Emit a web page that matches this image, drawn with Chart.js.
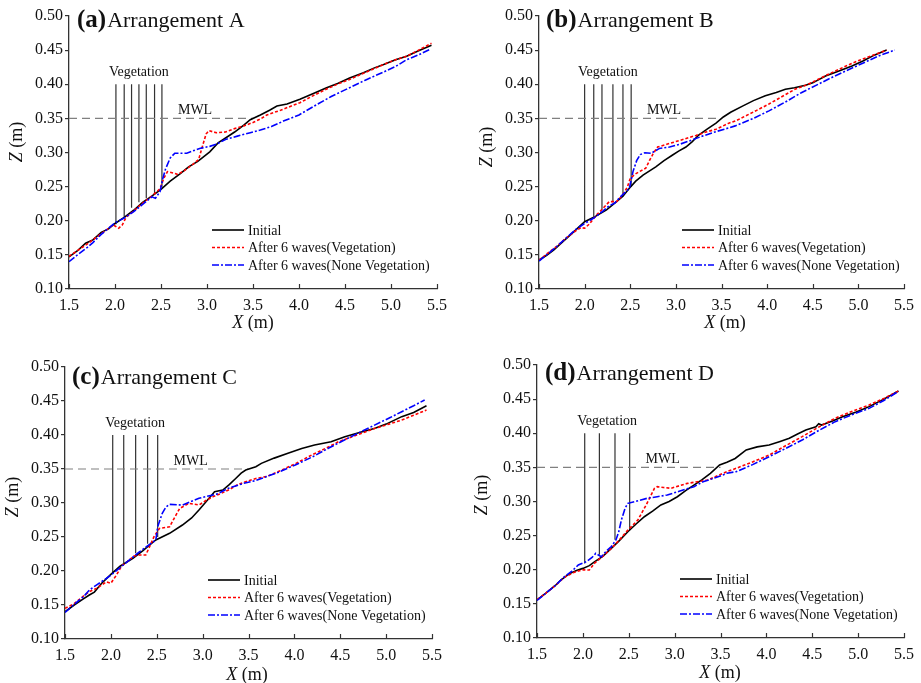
<!DOCTYPE html>
<html><head><meta charset="utf-8">
<script src="https://cdn.jsdelivr.net/npm/chart.js@4.4.0/dist/chart.umd.min.js"></script>
<style>
html,body{margin:0;padding:0;background:#fff;}
#wrap{position:relative;width:921px;height:683px;overflow:hidden;background:#fff;}
canvas{position:absolute;}
</style></head><body><div id="wrap">
<canvas id="ca" width="460" height="340" style="left:0px;top:0px"></canvas>
<canvas id="cb" width="461" height="340" style="left:460px;top:0px"></canvas>
<canvas id="cc" width="460" height="343" style="left:0px;top:340px"></canvas>
<canvas id="cd" width="461" height="343" style="left:460px;top:340px"></canvas>
</div>
<script>
// ---------- data ----------
const seriesLabels = ['Initial', 'After 6 waves(Vegetation)', 'After 6 waves(None Vegetation)'];
const xTickVals = [1.5, 2.0, 2.5, 3.0, 3.5, 4.0, 4.5, 5.0, 5.5];
const yTickVals = [0.10, 0.15, 0.20, 0.25, 0.30, 0.35, 0.40, 0.45, 0.50];
const mwlLevel = 0.35;
const mwlRange = [1.5, 3.5];
const stemTop = 0.40;

// Arrangement A
const A_initial = [[1.5,0.147],[1.6,0.157],[1.68,0.167],[1.76,0.172],[1.85,0.183],[1.93,0.188],[2.0,0.196],[2.1,0.205],[2.2,0.215],[2.3,0.227],[2.4,0.236],[2.5,0.246],[2.6,0.258],[2.71,0.269],[2.8,0.279],[2.9,0.287],[3.03,0.301],[3.12,0.314],[3.21,0.322],[3.3,0.330],[3.4,0.340],[3.47,0.348],[3.58,0.355],[3.68,0.362],[3.76,0.368],[3.87,0.371],[4.01,0.378],[4.15,0.386],[4.3,0.395],[4.42,0.401],[4.55,0.409],[4.7,0.417],[4.82,0.424],[4.92,0.429],[5.05,0.436],[5.17,0.441],[5.3,0.449],[5.44,0.457]];
const A_vegetation = [[1.5,0.148],[1.6,0.157],[1.7,0.166],[1.8,0.176],[1.9,0.186],[1.98,0.194],[2.04,0.189],[2.08,0.194],[2.12,0.205],[2.2,0.214],[2.3,0.226],[2.4,0.236],[2.49,0.247],[2.53,0.262],[2.57,0.272],[2.63,0.270],[2.68,0.268],[2.75,0.273],[2.85,0.283],[2.91,0.290],[2.95,0.309],[2.99,0.327],[3.02,0.332],[3.1,0.329],[3.2,0.330],[3.3,0.335],[3.4,0.339],[3.5,0.344],[3.58,0.349],[3.65,0.355],[3.8,0.362],[4.01,0.373],[4.15,0.383],[4.3,0.393],[4.45,0.402],[4.55,0.407],[4.7,0.416],[4.82,0.423],[4.92,0.429],[5.05,0.436],[5.17,0.441],[5.3,0.450],[5.44,0.460]];
const A_noneVeg = [[1.5,0.140],[1.6,0.151],[1.7,0.161],[1.76,0.168],[1.85,0.180],[1.93,0.189],[2.0,0.197],[2.1,0.204],[2.2,0.213],[2.3,0.224],[2.4,0.235],[2.44,0.233],[2.49,0.243],[2.52,0.262],[2.55,0.276],[2.6,0.292],[2.65,0.299],[2.78,0.299],[2.92,0.306],[3.03,0.309],[3.1,0.312],[3.2,0.319],[3.33,0.324],[3.47,0.329],[3.58,0.333],[3.7,0.338],[3.83,0.346],[4.0,0.355],[4.19,0.370],[4.35,0.382],[4.55,0.395],[4.72,0.406],[4.92,0.418],[5.05,0.426],[5.17,0.436],[5.3,0.443],[5.42,0.451]];
const A_stemX = [2.01, 2.10, 2.18, 2.26, 2.34, 2.43, 2.51];
const A_stemBase = [0.195, 0.204, 0.219, 0.227, 0.233, 0.238, 0.249];

// Arrangement B
const B_initial = [[1.5,0.1425],[1.58,0.149],[1.66,0.157],[1.75,0.168],[1.85,0.180],[1.93,0.190],[2.0,0.1986],[2.1,0.205],[2.24,0.216],[2.35,0.228],[2.42,0.236],[2.49,0.2475],[2.56,0.258],[2.64,0.267],[2.78,0.279],[2.87,0.288],[2.96,0.296],[3.03,0.302],[3.11,0.308],[3.18,0.316],[3.25,0.3256],[3.35,0.335],[3.44,0.343],[3.52,0.352],[3.6,0.359],[3.73,0.368],[3.85,0.376],[3.98,0.383],[4.1,0.388],[4.2,0.3926],[4.3,0.395],[4.42,0.3985],[4.5,0.402],[4.64,0.412],[4.78,0.419],[4.93,0.4267],[5.05,0.434],[5.18,0.443],[5.31,0.4502]];
const B_vegetation = [[1.5,0.142],[1.6,0.153],[1.7,0.163],[1.8,0.175],[1.9,0.185],[1.96,0.190],[2.0,0.189],[2.05,0.195],[2.13,0.2084],[2.2,0.218],[2.27,0.228],[2.35,0.228],[2.42,0.238],[2.47,0.250],[2.5,0.262],[2.55,0.268],[2.6,0.272],[2.67,0.277],[2.71,0.288],[2.75,0.298],[2.8,0.308],[2.9,0.312],[3.0,0.316],[3.1,0.320],[3.22,0.325],[3.33,0.330],[3.44,0.334],[3.58,0.343],[3.65,0.346],[3.8,0.356],[4.02,0.371],[4.15,0.381],[4.31,0.393],[4.45,0.400],[4.6,0.410],[4.74,0.419],[4.87,0.427],[4.99,0.434],[5.15,0.442],[5.31,0.450]];
const B_noneVeg = [[1.5,0.141],[1.6,0.152],[1.7,0.163],[1.8,0.175],[1.9,0.187],[2.0,0.196],[2.1,0.204],[2.2,0.214],[2.27,0.222],[2.33,0.226],[2.4,0.236],[2.49,0.2475],[2.53,0.272],[2.57,0.288],[2.61,0.297],[2.66,0.2997],[2.73,0.2988],[2.82,0.306],[2.93,0.308],[3.04,0.312],[3.15,0.317],[3.29,0.324],[3.45,0.331],[3.58,0.336],[3.65,0.339],[3.85,0.350],[4.02,0.361],[4.2,0.374],[4.38,0.388],[4.56,0.400],[4.74,0.412],[4.92,0.423],[5.1,0.434],[5.25,0.443],[5.4,0.450]];
const B_stemX = [2.0, 2.10, 2.19, 2.31, 2.42, 2.51];
const B_stemBase = [0.199, 0.206, 0.216, 0.227, 0.236, 0.250];

// Arrangement C
const C_initial = [[1.5,0.140],[1.6,0.150],[1.7,0.159],[1.765,0.1647],[1.82,0.169],[1.9,0.182],[2.0,0.195],[2.1,0.207],[2.24,0.2187],[2.35,0.230],[2.42,0.238],[2.49,0.2456],[2.64,0.2554],[2.78,0.2676],[2.88,0.278],[2.96,0.2897],[3.07,0.307],[3.13,0.3166],[3.22,0.319],[3.29,0.327],[3.36,0.336],[3.42,0.344],[3.47,0.3485],[3.58,0.3534],[3.64,0.3583],[3.78,0.366],[3.93,0.373],[4.08,0.380],[4.22,0.3853],[4.4,0.390],[4.55,0.3975],[4.72,0.404],[4.88,0.4098],[5.0,0.416],[5.17,0.427],[5.3,0.433],[5.44,0.443]];
const C_vegetation = [[1.5,0.145],[1.6,0.152],[1.7,0.163],[1.765,0.1696],[1.85,0.175],[1.95,0.184],[2.0,0.182],[2.06,0.194],[2.12,0.208],[2.18,0.2137],[2.25,0.222],[2.31,0.2235],[2.38,0.2235],[2.43,0.238],[2.47,0.2505],[2.53,0.2627],[2.64,0.265],[2.69,0.2775],[2.75,0.292],[2.85,0.2996],[2.96,0.297],[3.04,0.304],[3.11,0.309],[3.2,0.314],[3.29,0.3196],[3.38,0.327],[3.46,0.331],[3.58,0.336],[3.7,0.339],[3.82,0.346],[4.0,0.357],[4.19,0.3706],[4.35,0.381],[4.48,0.390],[4.68,0.400],[4.88,0.4098],[5.03,0.416],[5.17,0.422],[5.3,0.429],[5.44,0.4368]];
const C_noneVeg = [[1.5,0.139],[1.6,0.151],[1.7,0.162],[1.765,0.172],[1.85,0.180],[1.95,0.189],[2.0,0.194],[2.1,0.205],[2.2,0.216],[2.3,0.227],[2.4,0.237],[2.49,0.2456],[2.51,0.265],[2.56,0.2848],[2.6,0.294],[2.64,0.298],[2.78,0.297],[2.87,0.302],[2.96,0.307],[3.05,0.310],[3.15,0.3128],[3.28,0.3216],[3.45,0.329],[3.58,0.333],[3.64,0.336],[3.82,0.345],[4.01,0.356],[4.2,0.368],[4.37,0.3804],[4.55,0.393],[4.73,0.405],[4.95,0.4196],[5.05,0.426],[5.17,0.4343],[5.3,0.443],[5.42,0.4515]];
const C_stemX = [2.02, 2.14, 2.27, 2.40, 2.51];
const C_stemBase = [0.198, 0.211, 0.226, 0.240, 0.250];

// Arrangement D
const D_initial = [[1.5,0.1557],[1.6,0.166],[1.7,0.177],[1.76,0.185],[1.85,0.194],[1.93,0.199],[2.0,0.202],[2.07,0.206],[2.13,0.2118],[2.22,0.220],[2.31,0.2314],[2.4,0.243],[2.49,0.2557],[2.58,0.267],[2.67,0.2777],[2.76,0.286],[2.85,0.295],[2.94,0.300],[3.03,0.307],[3.12,0.316],[3.21,0.324],[3.3,0.332],[3.39,0.3413],[3.49,0.3535],[3.57,0.3574],[3.66,0.363],[3.78,0.3755],[3.9,0.380],[4.03,0.3828],[4.15,0.388],[4.25,0.3926],[4.34,0.399],[4.43,0.4048],[4.54,0.4096],[4.57,0.414],[4.6,0.412],[4.72,0.418],[4.83,0.4243],[4.98,0.431],[5.12,0.439],[5.28,0.450],[5.44,0.462]];
const D_vegetation = [[1.5,0.156],[1.6,0.166],[1.7,0.177],[1.8,0.189],[1.9,0.196],[2.0,0.200],[2.07,0.1996],[2.13,0.210],[2.22,0.220],[2.31,0.2314],[2.4,0.244],[2.49,0.258],[2.6,0.273],[2.69,0.295],[2.78,0.3193],[2.81,0.3217],[2.88,0.3205],[2.96,0.3193],[3.05,0.323],[3.14,0.3266],[3.25,0.329],[3.36,0.3315],[3.47,0.338],[3.57,0.3437],[3.67,0.3486],[3.85,0.358],[4.03,0.368],[4.2,0.381],[4.39,0.395],[4.57,0.409],[4.75,0.422],[4.93,0.432],[5.12,0.4414],[5.28,0.451],[5.44,0.462]];
const D_noneVeg = [[1.5,0.155],[1.6,0.166],[1.7,0.177],[1.8,0.190],[1.88,0.198],[1.95,0.207],[2.04,0.2118],[2.1,0.218],[2.14,0.224],[2.2,0.219],[2.26,0.228],[2.31,0.234],[2.36,0.2436],[2.39,0.255],[2.42,0.273],[2.46,0.290],[2.49,0.2973],[2.56,0.2997],[2.7,0.3047],[2.81,0.307],[2.92,0.3095],[3.05,0.315],[3.21,0.3217],[3.31,0.329],[3.45,0.335],[3.57,0.3413],[3.67,0.3437],[3.85,0.354],[4.03,0.3657],[4.2,0.377],[4.39,0.390],[4.57,0.404],[4.75,0.417],[4.93,0.427],[5.12,0.4365],[5.28,0.448],[5.44,0.4614]];
const D_stemX = [2.02, 2.18, 2.35, 2.51];
const D_stemBase = [0.209, 0.222, 0.244, 0.258];

// ---------- styles / layout ----------
const FONT = "'Liberation Serif','Times New Roman',serif";
const lineStyles = [
  {color:'#000000', dash:[], width:1.6},
  {color:'#ff0000', dash:[3,2], width:1.6},
  {color:'#0000ff', dash:[7,2,2,2], width:1.6}
];
const panels = [
  {id:'ca', tag:'(a)', name:'Arrangement A', series:[A_initial,A_vegetation,A_noneVeg], stemX:A_stemX, stemBase:A_stemBase,
   W:460,H:340,L:69,R:437,T:16,B:289, titleOff:[8,11], zLab:[17,142], xLab:[253,323]},
  {id:'cb', tag:'(b)', name:'Arrangement B', series:[B_initial,B_vegetation,B_noneVeg], stemX:B_stemX, stemBase:B_stemBase,
   W:461,H:340,L:79,R:446,T:16,B:289, titleOff:[7,11], zLab:[27,147], xLab:[265,323]},
  {id:'cc', tag:'(c)', name:'Arrangement C', series:[C_initial,C_vegetation,C_noneVeg], stemX:C_stemX, stemBase:C_stemBase,
   W:460,H:343,L:65,R:432,T:27,B:299, titleOff:[7,17], zLab:[13,157], xLab:[247,335]},
  {id:'cd', tag:'(d)', name:'Arrangement D', series:[D_initial,D_vegetation,D_noneVeg], stemX:D_stemX, stemBase:D_stemBase,
   W:461,H:343,L:77,R:446,T:25,B:298, titleOff:[8,15], zLab:[22,155], xLab:[260,333]}
];

function drawMixed(ctx, parts, cx, cy){
  let w = 0;
  parts.forEach(p => { ctx.font = p[1]; w += ctx.measureText(p[0]).width; });
  let x = cx - w/2;
  parts.forEach(p => { ctx.font = p[1]; ctx.fillText(p[0], x, cy); x += ctx.measureText(p[0]).width; });
}

const overlay = {
  id:'overlay',
  afterDraw(chart, args, o){
    const ctx = chart.ctx, xs = chart.scales.x, ys = chart.scales.y, ca = chart.chartArea;
    ctx.save();
    // inward x ticks
    ctx.strokeStyle = '#333'; ctx.lineWidth = 1.2; ctx.setLineDash([]);
    xTickVals.forEach(v => {
      const px = Math.round(xs.getPixelForValue(v)) + 0.5;
      ctx.beginPath(); ctx.moveTo(px, ca.bottom); ctx.lineTo(px, ca.bottom - 5); ctx.stroke();
    });
    ctx.fillStyle = '#111';
    // title
    ctx.textBaseline = 'alphabetic'; ctx.textAlign = 'left';
    let tx = ca.left + o.titleOff[0], ty = ca.top + o.titleOff[1];
    ctx.font = 'bold 25px ' + FONT; ctx.fillText(o.tag, tx, ty);
    tx += ctx.measureText(o.tag).width + 1;
    ctx.font = '22px ' + FONT; ctx.fillText(o.name, tx, ty);
    // annotations
    ctx.font = '14px ' + FONT; ctx.textAlign = 'center';
    const midStem = (o.stemX[0] + o.stemX[o.stemX.length-1]) / 2;
    ctx.fillText('Vegetation', xs.getPixelForValue(midStem), ys.getPixelForValue(stemTop) - 8);
    ctx.fillText('MWL', xs.getPixelForValue(2.87), ys.getPixelForValue(mwlLevel) - 4);
    // legend
    ctx.textAlign = 'left'; ctx.textBaseline = 'middle';
    const rows = [59, 41.5, 24];
    seriesLabels.forEach((lab, i) => {
      const y = ca.bottom - rows[i], s = lineStyles[i];
      ctx.strokeStyle = s.color; ctx.lineWidth = s.width; ctx.setLineDash(s.dash);
      ctx.beginPath(); ctx.moveTo(ca.left + 143, y); ctx.lineTo(ca.left + 175, y); ctx.stroke();
      ctx.setLineDash([]);
      ctx.fillStyle = '#111'; ctx.font = '14px ' + FONT;
      ctx.fillText(lab, ca.left + 179, y + 1);
    });
    // axis titles
    ctx.textBaseline = 'middle'; ctx.textAlign = 'left';
    drawMixed(ctx, [['X', 'italic 18px ' + FONT], [' (m)', '18px ' + FONT]], o.xLab[0], o.xLab[1]);
    ctx.save();
    ctx.translate(o.zLab[0], o.zLab[1]); ctx.rotate(-Math.PI/2);
    drawMixed(ctx, [['Z', 'italic 18px ' + FONT], [' (m)', '18px ' + FONT]], 0, 0);
    ctx.restore();
    ctx.restore();
  }
};

panels.forEach(p => {
  const stemPts = [];
  p.stemX.forEach((x, i) => { stemPts.push({x:x, y:p.stemBase[i]}, {x:x, y:stemTop}, {x:x, y:null}); });
  const datasets = [
    {label:'stems', data:stemPts, borderColor:'#333', borderWidth:1.2, pointRadius:0, spanGaps:false, order:5},
    {label:'MWL', data:[{x:mwlRange[0], y:mwlLevel}, {x:mwlRange[1], y:mwlLevel}], borderColor:'#808080', borderWidth:1.2, borderDash:[8,5], pointRadius:0, order:4}
  ];
  p.series.forEach((arr, i) => {
    datasets.push({label:seriesLabels[i], data:arr.map(d => ({x:d[0], y:d[1]})), borderColor:lineStyles[i].color,
      borderWidth:lineStyles[i].width, borderDash:lineStyles[i].dash, pointRadius:0, tension:0, order:3-i});
  });
  new Chart(document.getElementById(p.id), {
    type:'line',
    data:{datasets},
    plugins:[overlay],
    options:{
      responsive:false, animation:false, devicePixelRatio:1,
      layout:{padding:{left:0, top:p.T, right:p.W - p.R, bottom:0}, autoPadding:false},
      plugins:{legend:{display:false}, tooltip:{enabled:false}, overlay:p},
      scales:{
        x:{type:'linear', min:1.5, max:5.5,
          afterBuildTicks(s){ s.ticks = xTickVals.map(v => ({value:v})); },
          afterFit(s){ s.height = p.H - p.B; },
          grid:{display:false, drawTicks:false},
          border:{display:true, color:'#333', width:1.3},
          ticks:{padding:7, color:'#111', font:{family:FONT, size:16}, maxRotation:0, autoSkip:false,
            callback:(v) => Number(v).toFixed(1)}},
        y:{type:'linear', min:0.10, max:0.50,
          afterBuildTicks(s){ s.ticks = yTickVals.map(v => ({value:v})); },
          afterFit(s){ s.width = p.L; },
          grid:{display:true, drawOnChartArea:false, drawTicks:true, tickLength:4, color:'#333', lineWidth:1.2},
          border:{display:true, color:'#333', width:1.3},
          ticks:{padding:2, color:'#111', font:{family:FONT, size:16}, autoSkip:false,
            callback:(v) => Number(v).toFixed(2)}}
      }
    }
  });
});
</script></body></html>
